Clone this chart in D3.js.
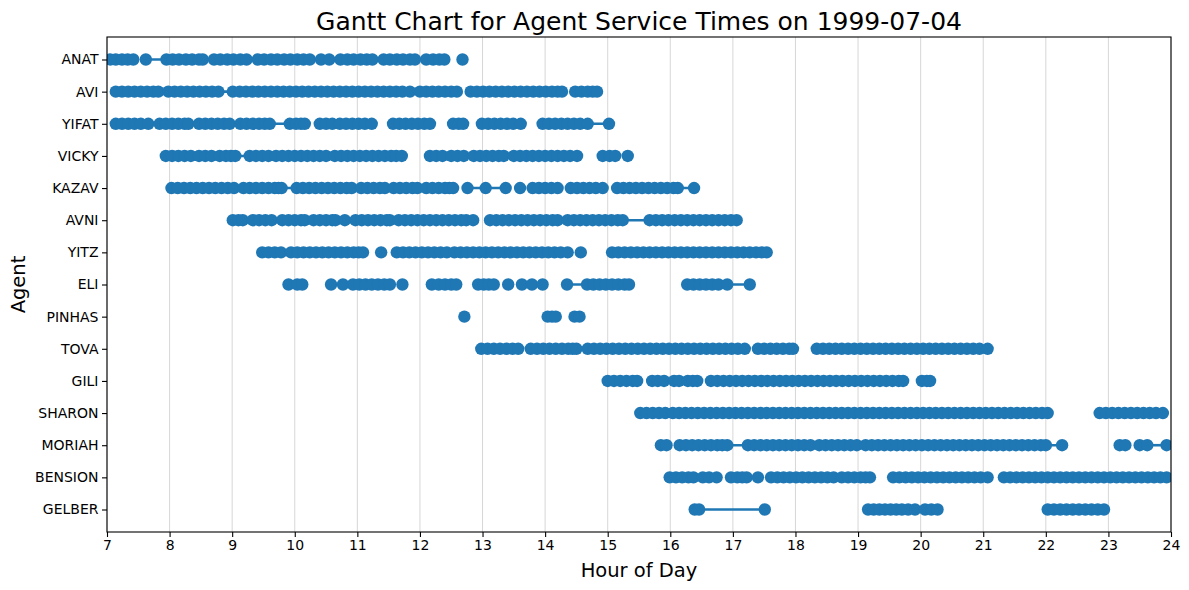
<!DOCTYPE html>
<html>
<head>
<meta charset="utf-8">
<script src="https://cdn.jsdelivr.net/npm/d3@7"></script>
<style>
  html, body { margin: 0; padding: 0; background: #fff; }
  svg { display: block; }
  text { font-family: "DejaVu Sans", sans-serif; }
</style>
</head>
<body>
<svg id="chart" width="1189" height="590"></svg>
<script>
// ---- Data: agents (top to bottom) ----
const agents = ["ANAT","AVI","YIFAT","VICKY","KAZAV","AVNI","YITZ","ELI","PINHAS","TOVA","GILI","SHARON","MORIAH","BENSION","GELBER"];

// Hour tick labels
const hourTicks = [7,8,9,10,11,12,13,14,15,16,17,18,19,20,21,22,23,24];

// Service runs per agent: each inner array is a chain of service start/end times (hours) joined by a line
const ANAT = [
  [7.05,7.14,7.24,7.33,7.42],
  [7.62,7.95,8.05,8.15,8.26,8.36,8.47,8.53,8.71,8.81,8.92,9.02,9.13,9.23,9.41,9.51,9.62,9.72,9.83,9.93,10.04,10.14,10.24,10.42,10.55,10.73,10.84,10.94,11.05,11.15,11.24,11.42,11.52,11.63,11.73,11.84,11.92,12.10,12.21,12.31,12.39],
  [12.68]
];
const AVI = [
  [7.14,7.24,7.34,7.44,7.54,7.64,7.74,7.82,7.98,8.08,8.18,8.28,8.38,8.48,8.58,8.68,8.78,9.01,9.12,9.22,9.32,9.42,9.52,9.62,9.72,9.82,9.92,10.02,10.12,10.22,10.32,10.42,10.52,10.62,10.72,10.82,10.92,11.02,11.12,11.22,11.32,11.42,11.52,11.62,11.72,11.84,12.00,12.10,12.20,12.30,12.40,12.50,12.59],
  [12.81,12.91,13.01,13.11,13.21,13.31,13.41,13.51,13.61,13.71,13.81,13.91,14.01,14.11,14.20,14.27],
  [14.48,14.58,14.68,14.76,14.83]
];
const YIFAT = [
  [7.14,7.24,7.34,7.44,7.54,7.66,7.84,7.94,8.04,8.14,8.24,8.30,8.47,8.57,8.67,8.77,8.87,8.96,9.13,9.23,9.33,9.43,9.52,9.60,9.92,10.02,10.10,10.16],
  [10.40,10.50,10.60,10.72,10.82,10.92,11.02,11.12,11.23],
  [11.57,11.67,11.77,11.87,11.97,12.07,12.16],
  [12.53,12.62,12.69],
  [12.99,13.09,13.19,13.29,13.39,13.49,13.61],
  [13.96,14.06,14.16,14.26,14.36,14.46,14.56,14.68,15.02]
];
const VICKY = [
  [7.94,8.04,8.14,8.24,8.34,8.47,8.57,8.67,8.80,8.90,8.98,9.05,9.28,9.38,9.48,9.58,9.70,9.80,9.90,10.00,10.10,10.20,10.30,10.40,10.50,10.64,10.74,10.84,10.94,11.04,11.14,11.24,11.34,11.44,11.54,11.62,11.71],
  [12.16,12.26,12.36,12.50,12.60,12.70,12.86,12.96,13.06,13.16,13.26,13.34],
  [13.50,13.60,13.70,13.80,13.90,14.00,14.10,14.20,14.30,14.40,14.51],
  [14.92,15.03,15.12],
  [15.32]
];
const KAZAV = [
  [8.03,8.13,8.23,8.33,8.43,8.53,8.63,8.73,8.83,8.93,9.03,9.18,9.28,9.38,9.48,9.58,9.68,9.74,9.79,10.03,10.13,10.23,10.33,10.43,10.53,10.63,10.73,10.83,10.91,11.06,11.16,11.26,11.36,11.44,11.58,11.68,11.78,11.88,11.96,12.10,12.20,12.30,12.40,12.47,12.53],
  [12.76,13.05,13.37],
  [13.60],
  [13.80,13.90,14.00,14.10,14.20],
  [14.41,14.51,14.61,14.71,14.81,14.92],
  [15.15,15.25,15.35,15.45,15.55,15.65,15.75,15.85,15.95,16.05,16.12,16.38]
];
const AVNI = [
  [9.01,9.10,9.17,9.33,9.43,9.53,9.63,9.80,9.90,10.00,10.10,10.16,10.30,10.40,10.50,10.60,10.65,10.80,10.97,11.07,11.17,11.27,11.37,11.47,11.52,11.66,11.76,11.86,11.96,12.06,12.16,12.26,12.36,12.46,12.56,12.66,12.74,12.85],
  [13.12,13.22,13.32,13.42,13.52,13.62,13.72,13.82,13.92,14.02,14.12,14.20,14.36,14.46,14.56,14.66,14.76,14.86,14.96,15.06,15.16,15.24,15.67,15.77,15.87,15.97,16.07,16.17,16.27,16.37,16.47,16.57,16.67,16.77,16.87,16.97,17.06]
];
const YITZ = [
  [9.48,9.58,9.68,9.78,9.94,10.04,10.14,10.24,10.34,10.44,10.54,10.64,10.74,10.84,10.94,11.02,11.09],
  [11.38],
  [11.63,11.73,11.83,11.93,12.03,12.13,12.23,12.33,12.43,12.55,12.65,12.75,12.85,12.95,13.05,13.15,13.25,13.35,13.45,13.55,13.65,13.75,13.85,13.95,14.05,14.15,14.25,14.36],
  [14.57],
  [15.07,15.17,15.27,15.37,15.47,15.57,15.67,15.77,15.87,15.97,16.07,16.17,16.27,16.37,16.47,16.57,16.67,16.77,16.87,16.97,17.07,17.17,17.27,17.37,17.46,17.54]
];
const ELI = [
  [9.90],
  [10.04,10.12],
  [10.58],
  [10.77],
  [10.93,11.03,11.13,11.23,11.33,11.43,11.52],
  [11.72],
  [12.19,12.30,12.40,12.50,12.58],
  [12.93,13.02,13.10,13.18],
  [13.41],
  [13.63],
  [13.79],
  [13.96],
  [14.35,14.67,14.77,14.87,14.97,15.07,15.17,15.27,15.34],
  [16.27,16.37,16.47,16.57,16.67,16.77,16.91,17.27]
];
const PINHAS = [
  [12.71],
  [14.04,14.11,14.17],
  [14.47,14.55]
];
const TOVA = [
  [12.98,13.08,13.18,13.28,13.38,13.48,13.57],
  [13.77,13.87,13.97,14.07,14.17,14.27,14.37,14.44,14.50],
  [14.68,14.78,14.88,14.98,15.08,15.18,15.28,15.38,15.48,15.58,15.68,15.78,15.88,15.98,16.08,16.18,16.28,16.38,16.48,16.58,16.68,16.78,16.88,16.98,17.08,17.19],
  [17.40,17.50,17.60,17.70,17.80,17.90,17.96],
  [18.34,18.44,18.54,18.64,18.74,18.84,18.94,19.04,19.14,19.24,19.34,19.44,19.54,19.64,19.74,19.84,19.94,20.04,20.14,20.24,20.34,20.44,20.54,20.64,20.74,20.84,20.94,21.07]
];
const GILI = [
  [15.00,15.10,15.20,15.30,15.40,15.47],
  [15.71,15.80,15.90],
  [16.06,16.14],
  [16.28,16.36,16.43],
  [16.65,16.75,16.85,16.95,17.05,17.15,17.25,17.35,17.45,17.55,17.65,17.75,17.85,17.95,18.05,18.15,18.25,18.35,18.45,18.55,18.65,18.75,18.85,18.95,19.05,19.15,19.25,19.35,19.45,19.55,19.65,19.72],
  [20.02,20.10,20.15]
];
const SHARON = [
  [15.52,15.62,15.72,15.82,15.92,16.04,16.14,16.24,16.34,16.44,16.54,16.64,16.74,16.84,16.94,17.04,17.14,17.24,17.34,17.44,17.54,17.64,17.74,17.84,17.94,18.04,18.14,18.24,18.34,18.44,18.54,18.64,18.74,18.84,18.94,19.04,19.14,19.24,19.34,19.44,19.54,19.64,19.74,19.84,19.94,20.04,20.14,20.24,20.34,20.44,20.54,20.64,20.74,20.84,20.94,21.04,21.14,21.24,21.34,21.44,21.54,21.64,21.74,21.84,21.94,22.03],
  [22.86,22.96,23.06,23.16,23.26,23.36,23.46,23.56,23.66,23.76,23.87]
];
const MORIAH = [
  [15.85,15.94],
  [16.15,16.25,16.35,16.45,16.55,16.65,16.75,16.83,16.91,17.24,17.34,17.44,17.54,17.64,17.74,17.84,17.94,18.04,18.14,18.24,18.38,18.48,18.58,18.68,18.78,18.88,18.98,19.12,19.22,19.32,19.42,19.52,19.62,19.72,19.82,19.92,20.02,20.12,20.22,20.32,20.42,20.52,20.62,20.72,20.82,20.92,21.02,21.12,21.22,21.32,21.42,21.52,21.62,21.72,21.82,21.92,22.00,22.26],
  [23.18,23.27],
  [23.50,23.62,23.93]
];
const BENSION = [
  [15.99,16.09,16.19,16.29,16.37,16.52,16.62,16.74],
  [16.97,17.07,17.15,17.22],
  [17.40],
  [17.61,17.71,17.81,17.91,18.01,18.11,18.21,18.31,18.41,18.51,18.61,18.74,18.84,18.94,19.04,19.12,19.19],
  [19.56,19.66,19.76,19.86,19.96,20.06,20.16,20.26,20.36,20.46,20.56,20.66,20.76,20.86,20.96,21.07],
  [21.33,21.43,21.53,21.63,21.73,21.83,21.93,22.03,22.13,22.23,22.33,22.43,22.53,22.63,22.73,22.83,22.93,23.03,23.13,23.23,23.33,23.43,23.53,23.63,23.73,23.83,23.93]
];
const GELBER = [
  [16.39,16.46,17.51],
  [19.16,19.25,19.34,19.43,19.52,19.61,19.70,19.80,19.91],
  [20.07,20.17,20.27],
  [22.03,22.13,22.23,22.33,22.43,22.53,22.63,22.73,22.83,22.93]
];
const serviceRuns = [ANAT, AVI, YIFAT, VICKY, KAZAV, AVNI, YITZ, ELI, PINHAS, TOVA, GILI, SHARON, MORIAH, BENSION, GELBER];

// ---- Layout ----
const W = 1189, H = 590;
const L = 107, R = 1171, T = 37, B = 532;
const color = "#1f77b4";

const svg = d3.select("#chart");
const x = d3.scaleLinear().domain([7, 24]).range([L, R]);
const y = d3.scalePoint().domain(agents).range([T, B]).padding(0.7);

// grid
svg.append("g").selectAll("line").data(hourTicks).join("line")
  .attr("x1", d => x(d)).attr("x2", d => x(d))
  .attr("y1", T).attr("y2", B)
  .attr("stroke", "#b0b0b0").attr("stroke-opacity", 0.5).attr("stroke-width", 1);

// clip
svg.append("defs").append("clipPath").attr("id", "plotclip")
  .append("rect").attr("x", L).attr("y", T).attr("width", R - L).attr("height", B - T);

const plot = svg.append("g").attr("clip-path", "url(#plotclip)");
const line = d3.line().x(d => x(d.t)).y(d => y(d.a));

agents.forEach((a, i) => {
  const runs = serviceRuns[i];
  const g = plot.append("g");
  runs.forEach(run => {
    const pts = run.map(t => ({ t, a }));
    if (pts.length > 1) {
      g.append("path").attr("d", line(pts))
        .attr("fill", "none").attr("stroke", color).attr("stroke-width", 2.6);
    }
    g.selectAll(null).data(pts).join("circle")
      .attr("cx", d => x(d.t)).attr("cy", d => y(d.a)).attr("r", 6.2)
      .attr("fill", color);
  });
});

// axes
const xAxis = d3.axisBottom(x).tickValues(hourTicks).tickFormat(d3.format("d")).tickSize(5).tickPadding(3.5);
const gx = svg.append("g").attr("transform", `translate(0,${B})`).call(xAxis);
const yAxis = d3.axisLeft(y).tickSize(5).tickPadding(3.5);
const gy = svg.append("g").attr("transform", `translate(${L},0)`).call(yAxis);
[gx, gy].forEach(g => {
  g.select(".domain").remove();
  g.selectAll(".tick line").attr("stroke", "#000").attr("stroke-width", 1.1);
  g.selectAll(".tick text").attr("fill", "#000").style("font-size", "14px").style("font-family", "DejaVu Sans, sans-serif");
});

// frame
svg.append("rect").attr("x", L).attr("y", T).attr("width", R - L).attr("height", B - T)
  .attr("fill", "none").attr("stroke", "#000").attr("stroke-width", 1.1);

// title & labels
svg.append("text").attr("x", (L + R) / 2).attr("y", 30).attr("text-anchor", "middle")
  .style("font-size", "25px").text("Gantt Chart for Agent Service Times on 1999-07-04");
svg.append("text").attr("x", (L + R) / 2).attr("y", 577).attr("text-anchor", "middle")
  .style("font-size", "19.5px").text("Hour of Day");
svg.append("text").attr("transform", `translate(25,${(T + B) / 2}) rotate(-90)`).attr("text-anchor", "middle")
  .style("font-size", "19.5px").text("Agent");
</script>
</body>
</html>
